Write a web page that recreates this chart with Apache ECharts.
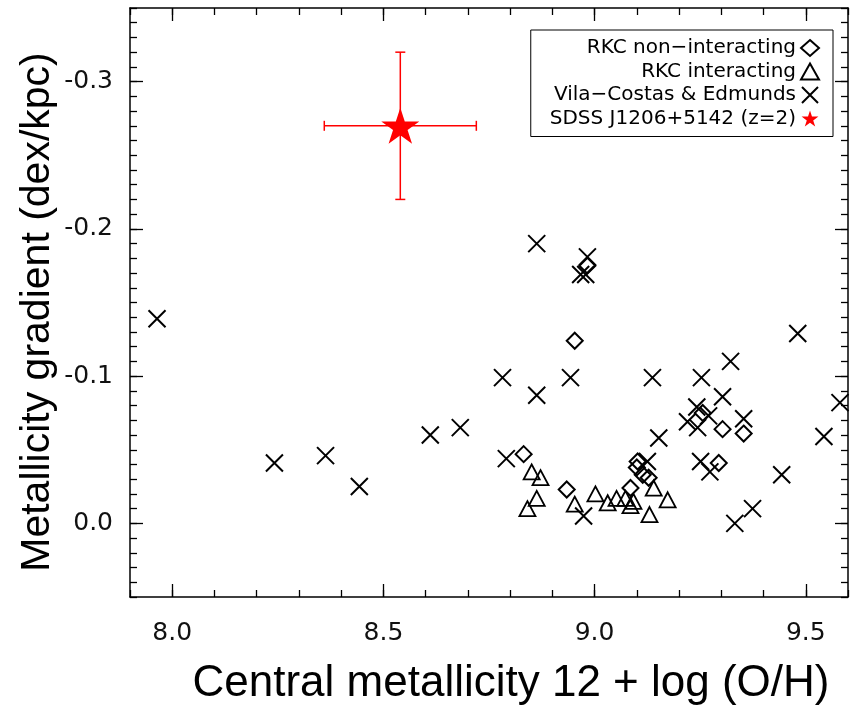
<!DOCTYPE html>
<html><head><meta charset="utf-8">
<script src="https://cdn.jsdelivr.net/npm/echarts@6/dist/echarts.min.js"></script>
<style>html,body{margin:0;padding:0;background:#fff}#c{width:856px;height:705px}</style>
</head><body><div id="c"></div>
<script>
// ---------- data ----------
const nonInteractingX = [8.832, 8.934, 8.953, 8.983, 9.102, 9.100, 9.114, 9.128, 9.085, 9.256, 9.303, 9.353, 9.294];
const nonInteractingY = [-0.047, -0.023, -0.124, -0.175, -0.042, -0.038, -0.033, -0.031, -0.024, -0.075, -0.064, -0.061, -0.041];

const interactingX = [8.851, 8.872, 8.863, 8.841, 8.953, 9.002, 9.031, 9.052, 9.073, 9.085, 9.140, 9.173, 9.130, 9.092];
const interactingY = [-0.035, -0.031, -0.017, -0.010, -0.013, -0.020, -0.014, -0.017, -0.017, -0.012, -0.024, -0.016, -0.006, -0.015];

const vilaX = [7.964, 8.242, 8.363, 8.443, 8.611, 8.682, 8.782, 8.791, 8.863, 8.863, 8.943, 8.974, 8.983, 8.967, 8.979, 9.137, 9.125, 9.152, 9.253, 9.322, 9.303, 9.242, 9.270, 9.220, 9.244, 9.353, 9.251, 9.273, 9.443, 9.374, 9.332, 9.481, 9.581, 9.543];
const vilaY = [-0.139, -0.041, -0.046, -0.025, -0.060, -0.065, -0.099, -0.044, -0.190, -0.087, -0.099, -0.005, -0.181, -0.169, -0.169, -0.099, -0.042, -0.058, -0.099, -0.110, -0.086, -0.079, -0.073, -0.069, -0.065, -0.071, -0.042, -0.035, -0.033, -0.010, 0.000, -0.129, -0.082, -0.059];

const sdssX = [8.54];
const sdssY = [-0.27];
const sdssXErr = [0.18];
const sdssYErr = [0.05];

const seriesNames = ['RKC non\u2212interacting', 'RKC interacting', 'Vila\u2212Costas & Edmunds', 'SDSS J1206+5142 (z=2)'];

const xMajorTicks = [8.0, 8.5, 9.0, 9.5];
const xMinorTicks = [7.9, 8.0, 8.1, 8.2, 8.3, 8.4, 8.5, 8.6, 8.7, 8.8, 8.9, 9.0, 9.1, 9.2, 9.3, 9.4, 9.5, 9.6];
const yMajorTicks = [-0.3, -0.2, -0.1, 0.0];
const yMinorTicks = [-0.35, -0.34, -0.33, -0.32, -0.31, -0.30, -0.29, -0.28, -0.27, -0.26, -0.25, -0.24, -0.23, -0.22, -0.21, -0.20, -0.19, -0.18, -0.17, -0.16, -0.15, -0.14, -0.13, -0.12, -0.11, -0.10, -0.09, -0.08, -0.07, -0.06, -0.05, -0.04, -0.03, -0.02, -0.01, 0.00, 0.01, 0.02, 0.03, 0.04, 0.05];

const xTitle = 'Central metallicity 12 + log (O/H)';
const yTitle = 'Metallicity gradient (dex/kpc)';

// ---------- helpers ----------
const zip = (a, b) => a.map((v, i) => [v, b[i]]);
const AX = '#000';
const tickFont = {fontFamily: 'DejaVu Sans', fontSize: 25, color: '#111'};
const fmt = v => (Math.abs(v) < 1e-9 ? '0.0' : v.toFixed(1));
const STAR = 'path://M50,0 L61.2,34.5 L97.6,34.5 L68.2,55.9 L79.4,90.5 L50,69.1 L20.6,90.5 L31.8,55.9 L2.4,34.5 L38.8,34.5 Z';
const CROSS = 'path://M0,0L10,10M0,10L10,0';

function xAx(pos, major, withLabel, showLine) {
  return {
    type: 'value', min: 7.9, max: 9.6, position: pos, gridIndex: 0,
    splitLine: {show: false},
    axisLine: {show: showLine, onZero: false, lineStyle: {color: AX, width: 1.5}},
    axisTick: {show: true, inside: true, length: major ? 13 : 7, customValues: major ? xMajorTicks : xMinorTicks, lineStyle: {color: AX, width: 1.3}},
    axisLabel: withLabel ? Object.assign({show: true, customValues: xMajorTicks, formatter: fmt, margin: 24}, tickFont) : {show: false}
  };
}
function yAx(pos, major, withLabel, showLine) {
  return {
    type: 'value', min: -0.35, max: 0.05, inverse: true, position: pos, gridIndex: 0,
    splitLine: {show: false},
    axisLine: {show: showLine, onZero: false, lineStyle: {color: AX, width: 1.5}},
    axisTick: {show: true, inside: true, length: major ? 13 : 7, customValues: major ? yMajorTicks : yMinorTicks, lineStyle: {color: AX, width: 1.3}},
    axisLabel: withLabel ? Object.assign({show: true, customValues: yMajorTicks, formatter: fmt, margin: 17}, tickFont) : {show: false}
  };
}

const chart = echarts.init(document.getElementById('c'), null, {renderer: 'canvas'});
chart.setOption({
  animation: false,
  backgroundColor: '#fff',
  grid: {left: 130, right: 8, top: 8, bottom: 108, containLabel: false},
  xAxis: [xAx('bottom', true, true, true), xAx('bottom', false, false, false), xAx('top', true, false, true), xAx('top', false, false, false)],
  yAxis: [yAx('left', true, true, true), yAx('left', false, false, false), yAx('right', true, false, true), yAx('right', false, false, false)],
  legend: {
    orient: 'vertical', right: 23, top: 30, align: 'right',
    itemWidth: 18, itemHeight: 16, itemGap: 3.5,
    padding: [8, 13, 8, 19],
    borderColor: '#000', borderWidth: 1,
    textStyle: {fontFamily: 'DejaVu Sans', fontSize: 20, lineHeight: 20, color: '#000'},
    data: seriesNames,
    selectedMode: false
  },
  graphic: [
    {type: 'text', x: 511, y: 684, style: {text: xTitle, font: '44px "Liberation Sans", Arial, sans-serif', fill: '#000', textAlign: 'center', textVerticalAlign: 'middle'}},
    {type: 'text', x: 38, y: 312, rotation: Math.PI / 2, style: {text: yTitle, font: '41px "Liberation Sans", Arial, sans-serif', fill: '#000', textAlign: 'center', textVerticalAlign: 'middle'}}
  ],
  series: [
    {
      name: seriesNames[0], type: 'scatter', xAxisIndex: 0, yAxisIndex: 0,
      symbol: 'diamond', symbolSize: 16,
      itemStyle: {color: 'transparent', borderColor: '#000', borderWidth: 2, opacity: 1},
      data: zip(nonInteractingX, nonInteractingY), z: 3
    },
    {
      name: seriesNames[1], type: 'scatter', xAxisIndex: 0, yAxisIndex: 0,
      symbol: 'triangle', symbolSize: [16, 15],
      itemStyle: {color: 'transparent', borderColor: '#000', borderWidth: 1.8, opacity: 1},
      data: zip(interactingX, interactingY), z: 3
    },
    {
      name: seriesNames[2], type: 'scatter', xAxisIndex: 0, yAxisIndex: 0,
      symbol: CROSS, symbolSize: 17,
      itemStyle: {color: 'transparent', borderColor: '#000', borderWidth: 2, opacity: 1},
      data: zip(vilaX, vilaY), z: 3
    },
    {
      name: 'errorbars', type: 'custom', xAxisIndex: 0, yAxisIndex: 0, z: 4,
      encode: {x: 0, y: 1},
      data: sdssX.map((x, i) => [x, sdssY[i], sdssXErr[i], sdssYErr[i]]),
      renderItem: function (params, api) {
        const x = api.value(0), y = api.value(1), ex = api.value(2), ey = api.value(3);
        const l = api.coord([x - ex, y]), r = api.coord([x + ex, y]);
        const t = api.coord([x, y - ey]), b = api.coord([x, y + ey]);
        const cap = 5;
        const st = {stroke: '#ff0000', lineWidth: 1.5};
        const ln = (x1, y1, x2, y2) => ({type: 'line', shape: {x1, y1, x2, y2}, style: st});
        return {type: 'group', children: [
          ln(l[0], l[1], r[0], r[1]), ln(t[0], t[1], b[0], b[1]),
          ln(l[0], l[1] - cap, l[0], l[1] + cap), ln(r[0], r[1] - cap, r[0], r[1] + cap),
          ln(t[0] - cap, t[1], t[0] + cap, t[1]), ln(b[0] - cap, b[1], b[0] + cap, b[1])
        ]};
      }
    },
    {
      name: seriesNames[3], type: 'scatter', xAxisIndex: 0, yAxisIndex: 0,
      symbol: STAR, symbolSize: [38, 36],
      itemStyle: {color: '#ff0000', borderWidth: 0, opacity: 1},
      data: zip(sdssX, sdssY), z: 5
    }
  ]
});
</script></body></html>
